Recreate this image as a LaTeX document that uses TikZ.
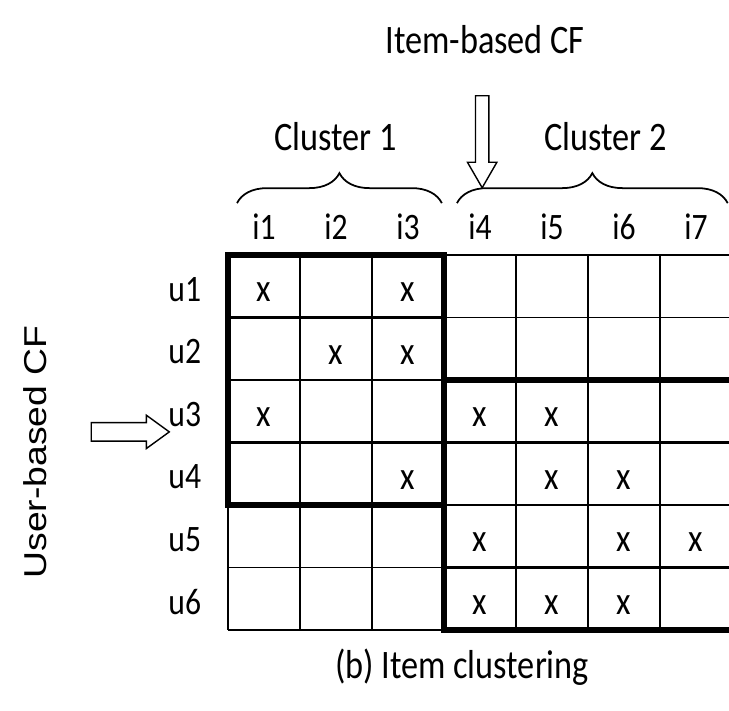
\documentclass[tikz,border=0pt]{standalone}
\usepackage{fontspec}
\setmainfont{Carlito}
\newfontfamily\sidefont{Liberation Sans}
\usetikzlibrary{shapes,arrows,positioning,calc,decorations.pathreplacing}

\newcommand{\tallbox}[1]{\scalebox{1}[1.18]{#1}}

\begin{document}
\begin{tikzpicture}[x=1.44cm, y=1.25cm,
  gridline/.style={line width=0.7pt},
  cellline/.style={line width=1.3pt},
  clusterbox/.style={line width=3pt},
  hit/.style={font=\fontsize{19}{22}\selectfont},
  lbl/.style={font=\fontsize{18}{22}\selectfont},
  heading/.style={font=\fontsize{19.5}{24}\selectfont},
  brace/.style={decorate, decoration={brace, amplitude=0.6cm}, line width=1pt},
  hollow/.style={draw, single arrow, fill=white, line width=0.8pt, minimum width=0pt}]

% Page frame
\clip (-3.1667,4.08) rectangle (6.958,-7.28);

% Titles
\node[heading, anchor=base] (itemcf) at (3.57,3.23) {\tallbox{Item-based CF}};
\node[font=\sidefont\fontsize{18}{22}\selectfont, rotate=90] (usercf) at (-2.68,-3.15) {\scalebox{1.18}[1]{User-based CF}};

% Hollow arrows
\node[hollow, rotate=-90, minimum height=1.84cm, inner sep=0.12cm,
  single arrow head extend=0.16cm, single arrow tip angle=60] (itemarrow) at (3.53,1.905) {};
\node[hollow, minimum height=1.56cm, inner sep=0.17cm,
  single arrow head extend=0.15cm, single arrow tip angle=72] (userarrow) at (-1.445,-2.83) {};

% Clusters
\draw[brace] (0.125,0.83) -- (2.97,0.83);
\draw[brace] (3.18,0.83) -- (6.94,0.83);
\node[heading, anchor=base] (cl1) at (1.49,1.68) {\tallbox{Cluster 1}};
\node[heading, anchor=base] (cl2) at (5.24,1.68) {\tallbox{Cluster 2}};

% Item labels
\node[lbl] (i1) at (0.5,0.45) {\tallbox{i1}};
\node[lbl] (i2) at (1.5,0.45) {\tallbox{i2}};
\node[lbl] (i3) at (2.5,0.45) {\tallbox{i3}};
\node[lbl] (i4) at (3.5,0.45) {\tallbox{i4}};
\node[lbl] (i5) at (4.5,0.45) {\tallbox{i5}};
\node[lbl] (i6) at (5.5,0.45) {\tallbox{i6}};
\node[lbl] (i7) at (6.5,0.45) {\tallbox{i7}};

% User labels
\node[lbl] (u1) at (-0.6,-0.55) {\tallbox{u1}};
\node[lbl] (u2) at (-0.6,-1.55) {\tallbox{u2}};
\node[lbl] (u3) at (-0.6,-2.55) {\tallbox{u3}};
\node[lbl] (u4) at (-0.6,-3.55) {\tallbox{u4}};
\node[lbl] (u5) at (-0.6,-4.55) {\tallbox{u5}};
\node[lbl] (u6) at (-0.6,-5.55) {\tallbox{u6}};

% Grid
\draw[gridline] (0,0) -- (7,0);
\draw[gridline] (0,-1) -- (7,-1);
\draw[gridline] (0,-2) -- (7,-2);
\draw[gridline] (0,-3) -- (7,-3);
\draw[gridline] (0,-4) -- (7,-4);
\draw[gridline] (0,-5) -- (7,-5);
\draw[gridline] (0,-6) -- (7,-6);
\draw[gridline] (0,0) -- (0,-6);
\draw[gridline] (1,0) -- (1,-6);
\draw[gridline] (2,0) -- (2,-6);
\draw[gridline] (3,0) -- (3,-6);
\draw[gridline] (4,0) -- (4,-6);
\draw[gridline] (5,0) -- (5,-6);
\draw[gridline] (6,0) -- (6,-6);
\draw[gridline] (7,0) -- (7,-6);

% Cells inside the clusters
\draw[cellline] (1,0) -- (1,-4) (2,0) -- (2,-4)
  (0,-1) -- (3,-1) (0,-2) -- (3,-2) (0,-3) -- (3,-3);
\draw[cellline] (4,-2) -- (4,-6) (5,-2) -- (5,-6) (6,-2) -- (6,-6)
  (3,-3) -- (7,-3) (3,-4) -- (7,-4) (3,-5) -- (7,-5);

% Cluster boxes
\draw[clusterbox] (0,0) rectangle (3,-4);
\draw[clusterbox] (3,-2) rectangle (7,-6);

% Ratings
\node[hit] (x11) at (0.5,-0.6) {\tallbox{x}};
\node[hit] (x13) at (2.5,-0.6) {\tallbox{x}};
\node[hit] (x22) at (1.5,-1.6) {\tallbox{x}};
\node[hit] (x23) at (2.5,-1.6) {\tallbox{x}};
\node[hit] (x31) at (0.5,-2.6) {\tallbox{x}};
\node[hit] (x34) at (3.5,-2.6) {\tallbox{x}};
\node[hit] (x35) at (4.5,-2.6) {\tallbox{x}};
\node[hit] (x43) at (2.5,-3.6) {\tallbox{x}};
\node[hit] (x45) at (4.5,-3.6) {\tallbox{x}};
\node[hit] (x46) at (5.5,-3.6) {\tallbox{x}};
\node[hit] (x54) at (3.5,-4.6) {\tallbox{x}};
\node[hit] (x56) at (5.5,-4.6) {\tallbox{x}};
\node[hit] (x57) at (6.5,-4.6) {\tallbox{x}};
\node[hit] (x64) at (3.5,-5.6) {\tallbox{x}};
\node[hit] (x65) at (4.5,-5.6) {\tallbox{x}};
\node[hit] (x66) at (5.5,-5.6) {\tallbox{x}};

% Caption
\node[heading, anchor=base] (caption) at (3.25,-6.77) {\tallbox{(b) Item clustering}};

\end{tikzpicture}
\end{document}
